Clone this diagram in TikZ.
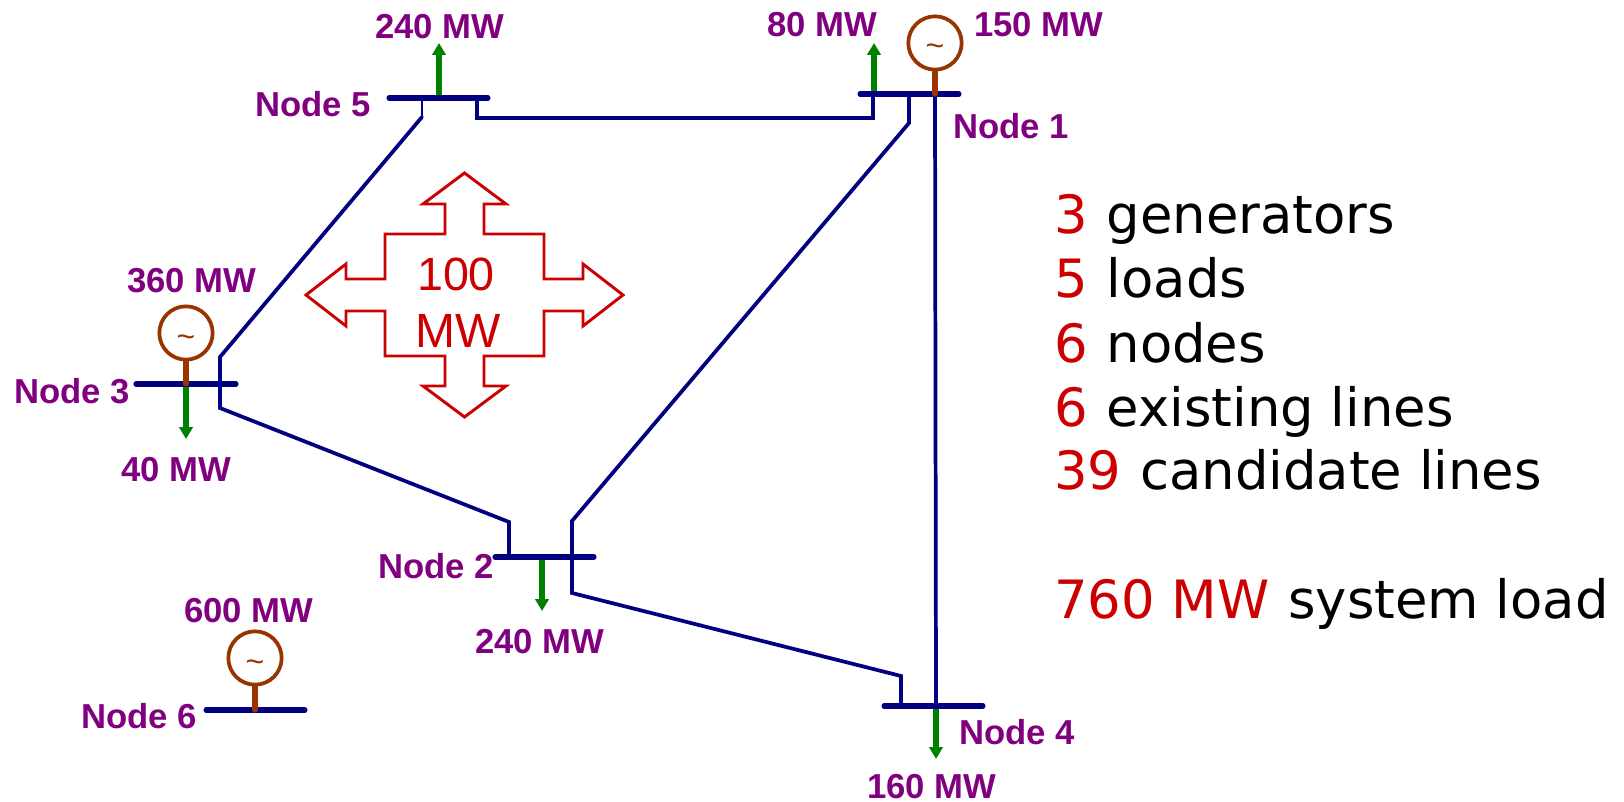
\documentclass[tikz,border=0pt]{standalone}
\usepackage{fontspec}
\setmainfont{Liberation Sans}
\newfontfamily\vfont{DejaVu Sans}
\usetikzlibrary{arrows.meta}
\definecolor{lbl}{HTML}{800080}
\definecolor{busc}{HTML}{000080}
\definecolor{loadc}{HTML}{008000}
\definecolor{genc}{HTML}{993300}
\definecolor{redc}{HTML}{CC0000}
\newcommand{\gentilde}{\raisebox{-10.5pt}[0pt][0pt]{\char`\~}}
\newcommand{\redpart}[1]{\textcolor{redc}{#1}\hspace{1.5pt}}
\tikzset{
  lab/.style={anchor=base west,inner sep=0pt,text=lbl,font=\fontsize{26pt}{26pt}\selectfont\bfseries},
  busbar/.style={draw=busc,line width=3.8pt,line cap=round},
  branch/.style={draw=busc,line width=2.8pt,line join=miter,line cap=round},
  loadarrow/.style={draw=loadc,line width=3.8pt,-{Triangle[length=9pt,width=10pt]}},
  stem/.style={draw=genc,line width=3.8pt,line cap=round},
  gen/.style={circle,draw=genc,line width=2.8pt,minimum size=40pt,inner sep=0pt,fill=white,text=genc,font=\fontsize{24pt}{24pt}\selectfont},
  info/.style={anchor=base west,inner sep=0pt,font=\fontsize{39.6pt}{39.6pt}\vfont},
}
\begin{document}
\begin{tikzpicture}[x=0.75pt,y=-0.75pt]
\useasboundingbox (0,0) rectangle (1624,802);
% bus ends
\coordinate (b5l) at (389,98); \coordinate (b5r) at (488,98);
\coordinate (b1l) at (860,94); \coordinate (b1r) at (959,94);
\coordinate (b3l) at (136,384); \coordinate (b3r) at (236,384);
\coordinate (b2l) at (495,557); \coordinate (b2r) at (594,557);
\coordinate (b4l) at (884,706); \coordinate (b4r) at (983,706);
\coordinate (b6l) at (206,710); \coordinate (b6r) at (305,710);
% branch way points
\coordinate (p5a) at (422,98); \coordinate (p5b) at (422,117);
\coordinate (p3a) at (220,357); \coordinate (p3b) at (220,408);
\coordinate (p2a) at (509,522); \coordinate (p2b) at (509,557);
\coordinate (q5a) at (477,98); \coordinate (q5b) at (477,118);
\coordinate (q1b) at (873,118); \coordinate (q1a) at (873,94);
\coordinate (r1a) at (909,94); \coordinate (r1b) at (909,123);
\coordinate (r2a) at (572,521); \coordinate (r2b) at (572,593);
\coordinate (r4b) at (901,676); \coordinate (r4a) at (901,706);
\coordinate (s1) at (935,94); \coordinate (s4) at (936,706);
% branches
\draw[branch,line width=1.5pt] (p5a) -- (p5b);
\draw[branch] (p5b) -- (p3a) -- (p3b) -- (p2a) -- (p2b);
\draw[branch] (q5a) -- (q5b) -- (q1b) -- (q1a);
\draw[branch] (r1a) -- (r1b) -- (r2a) -- (r2b) -- (r4b) -- (r4a);
\draw[branch] (s1) -- (s4);
% loads
\coordinate (l5a) at (439,98); \coordinate (l5b) at (439,43);
\coordinate (l1a) at (874,94); \coordinate (l1b) at (874,43);
\coordinate (l3a) at (186,384); \coordinate (l3b) at (186,439);
\coordinate (l2a) at (542,557); \coordinate (l2b) at (542,611);
\coordinate (l4a) at (936,706); \coordinate (l4b) at (936,759);
\draw[loadarrow] (l5a) -- (l5b);
\draw[loadarrow] (l1a) -- (l1b);
\draw[loadarrow] (l3a) -- (l3b);
\draw[loadarrow] (l2a) -- (l2b);
\draw[loadarrow] (l4a) -- (l4b);
% buses
\draw[busbar] (b5l) -- (b5r);
\draw[busbar] (b1l) -- (b1r);
\draw[busbar] (b3l) -- (b3r);
\draw[busbar] (b2l) -- (b2r);
\draw[busbar] (b4l) -- (b4r);
\draw[busbar] (b6l) -- (b6r);
% generators
\node[gen] (g1) at (935,43) {\gentilde};
\node[gen] (g3) at (186,333) {\gentilde};
\node[gen] (g6) at (255,658) {\gentilde};
\coordinate (t1) at (935,94); \coordinate (t3) at (186,384); \coordinate (t6) at (255,710);
\draw[stem] (g1.south) -- (t1);
\draw[stem] (g3.south) -- (t3);
\draw[stem] (g6.south) -- (t6);
% labels
\node[lab] (n5) at (255,117) {Node 5};
\node[lab] (n1) at (953,139) {Node 1};
\node[lab] (n3) at (14,403) {Node 3};
\node[lab] (n2) at (378,578) {Node 2};
\node[lab] (n4) at (959,744) {Node 4};
\node[lab] (n6) at (81,728) {Node 6};
\node[lab] (m5) at (375,39) {240 MW};
\node[lab] (m1l) at (767,37) {80 MW};
\node[lab] (m1g) at (974,37) {150 MW};
\node[lab] (m3g) at (127,293) {360 MW};
\node[lab] (m3l) at (121,481) {40 MW};
\node[lab] (m2) at (475,653) {240 MW};
\node[lab] (m4) at (867,798) {160 MW};
\node[lab] (m6) at (184,622) {600 MW};
% capability arrow
\draw[draw=redc,line width=2.2pt,miter limit=10]
 (464.5,173) -- (506,204) -- (484,204) -- (484,234) -- (544,234) -- (544,279) -- (583,279) -- (583,264)
 -- (623,295) -- (583,326) -- (583,311) -- (544,311) -- (544,356) -- (484,356) -- (484,386) -- (506,386)
 -- (464.5,417) -- (423,386) -- (445,386) -- (445,356) -- (385,356) -- (385,311) -- (346,311) -- (346,326)
 -- (306,295) -- (346,264) -- (346,279) -- (385,279) -- (385,234) -- (445,234) -- (445,204) -- (423,204) -- cycle;
\node[anchor=base,inner sep=0pt,text=redc,font=\fontsize{35pt}{35pt}\selectfont] (c1) at (456,291) {100};
\node[anchor=base,inner sep=0pt,text=redc,font=\fontsize{36pt}{36pt}\selectfont] (c2) at (458,347) {MW};
% summary
\node[info] (i1) at (1054,234) {\redpart{3} generators};
\node[info] (i2) at (1054,298) {\redpart{5} loads};
\node[info] (i3) at (1054,362) {\redpart{6} nodes};
\node[info] (i4) at (1054,426) {\redpart{6} existing lines};
\node[info] (i5) at (1054,489) {\redpart{39} candidate lines};
\node[info] (i6) at (1054,618) {\redpart{760 MW} system load};
\end{tikzpicture}
\end{document}
